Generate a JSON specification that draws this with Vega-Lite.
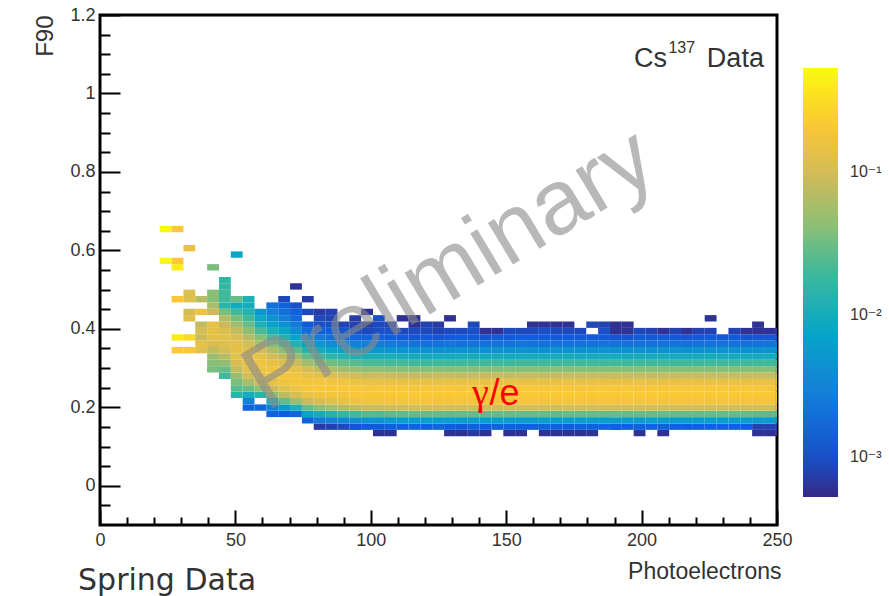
{
"$schema":"https://vega.github.io/schema/vega-lite/v6.json",
"width":677,"height":510,
"autosize":{"type":"none"},
"padding":{"left":100,"top":15,"right":112,"bottom":71},
"background":"white",
"config":{"view":{"stroke":"black","strokeWidth":3},"font":"Liberation Sans"},
"layer":[
{"data":{"values":[
{"x":21.875,"y":0.56625,"v":0.5},{"x":21.875,"y":0.6475,"v":0.5},
{"x":26.25,"y":0.33875,"v":0.22},{"x":26.25,"y":0.37125,"v":0.4},{"x":26.25,"y":0.46875,"v":0.2},{"x":26.25,"y":0.55,"v":0.42},{"x":26.25,"y":0.56625,"v":0.22},{"x":26.25,"y":0.6475,"v":0.22},
{"x":30.625,"y":0.33875,"v":0.2},{"x":30.625,"y":0.37125,"v":0.3},{"x":30.625,"y":0.42,"v":0.13},{"x":30.625,"y":0.43625,"v":0.1},{"x":30.625,"y":0.46875,"v":0.12},{"x":30.625,"y":0.485,"v":0.12},{"x":30.625,"y":0.59875,"v":0.15},
{"x":35,"y":0.33875,"v":0.13},{"x":35,"y":0.355,"v":0.14},{"x":35,"y":0.37125,"v":0.09},{"x":35,"y":0.3875,"v":0.1},{"x":35,"y":0.40375,"v":0.08},{"x":35,"y":0.43625,"v":0.16},{"x":35,"y":0.46875,"v":0.07},
{"x":39.375,"y":0.29,"v":0.035},{"x":39.375,"y":0.30625,"v":0.04},{"x":39.375,"y":0.3225,"v":0.05},{"x":39.375,"y":0.33875,"v":0.08},{"x":39.375,"y":0.355,"v":0.11},{"x":39.375,"y":0.37125,"v":0.13},{"x":39.375,"y":0.3875,"v":0.14},{"x":39.375,"y":0.40375,"v":0.14},{"x":39.375,"y":0.43625,"v":0.09},{"x":39.375,"y":0.4525,"v":0.06},{"x":39.375,"y":0.46875,"v":0.04},{"x":39.375,"y":0.485,"v":0.04},{"x":39.375,"y":0.55,"v":0.035},
{"x":43.75,"y":0.27375,"v":0.02},{"x":43.75,"y":0.29,"v":0.03},{"x":43.75,"y":0.30625,"v":0.045},{"x":43.75,"y":0.3225,"v":0.07},{"x":43.75,"y":0.33875,"v":0.1},{"x":43.75,"y":0.355,"v":0.12},{"x":43.75,"y":0.37125,"v":0.13},{"x":43.75,"y":0.3875,"v":0.12},{"x":43.75,"y":0.40375,"v":0.09},{"x":43.75,"y":0.42,"v":0.065},{"x":43.75,"y":0.43625,"v":0.035},{"x":43.75,"y":0.4525,"v":0.015},{"x":43.75,"y":0.46875,"v":0.02},{"x":43.75,"y":0.485,"v":0.02},{"x":43.75,"y":0.50125,"v":0.017},{"x":43.75,"y":0.5175,"v":0.017},
{"x":48.125,"y":0.225,"v":0.015},{"x":48.125,"y":0.24125,"v":0.025},{"x":48.125,"y":0.2575,"v":0.035},{"x":48.125,"y":0.27375,"v":0.05},{"x":48.125,"y":0.29,"v":0.08},{"x":48.125,"y":0.30625,"v":0.11},{"x":48.125,"y":0.3225,"v":0.13},{"x":48.125,"y":0.33875,"v":0.14},{"x":48.125,"y":0.355,"v":0.13},{"x":48.125,"y":0.37125,"v":0.11},{"x":48.125,"y":0.3875,"v":0.08},{"x":48.125,"y":0.40375,"v":0.055},{"x":48.125,"y":0.42,"v":0.035},{"x":48.125,"y":0.43625,"v":0.02},{"x":48.125,"y":0.4525,"v":0.009},{"x":48.125,"y":0.46875,"v":0.03},{"x":48.125,"y":0.5825,"v":0.008},
{"x":52.5,"y":0.1925,"v":0.0015},{"x":52.5,"y":0.20875,"v":0.003},{"x":52.5,"y":0.225,"v":0.01},{"x":52.5,"y":0.24125,"v":0.03},{"x":52.5,"y":0.2575,"v":0.06},{"x":52.5,"y":0.27375,"v":0.1},{"x":52.5,"y":0.29,"v":0.13},{"x":52.5,"y":0.30625,"v":0.15},{"x":52.5,"y":0.3225,"v":0.15},{"x":52.5,"y":0.33875,"v":0.13},{"x":52.5,"y":0.355,"v":0.1},{"x":52.5,"y":0.37125,"v":0.07},{"x":52.5,"y":0.3875,"v":0.045},{"x":52.5,"y":0.40375,"v":0.03},{"x":52.5,"y":0.42,"v":0.02},{"x":52.5,"y":0.43625,"v":0.014},{"x":52.5,"y":0.4525,"v":0.01},{"x":52.5,"y":0.46875,"v":0.012},
{"x":56.875,"y":0.1925,"v":0.0016},{"x":56.875,"y":0.225,"v":0.015},{"x":56.875,"y":0.24125,"v":0.045},{"x":56.875,"y":0.2575,"v":0.09},{"x":56.875,"y":0.27375,"v":0.13},{"x":56.875,"y":0.29,"v":0.16},{"x":56.875,"y":0.30625,"v":0.16},{"x":56.875,"y":0.3225,"v":0.14},{"x":56.875,"y":0.33875,"v":0.1},{"x":56.875,"y":0.355,"v":0.065},{"x":56.875,"y":0.37125,"v":0.04},{"x":56.875,"y":0.3875,"v":0.022},{"x":56.875,"y":0.40375,"v":0.013},{"x":56.875,"y":0.42,"v":0.008},{"x":56.875,"y":0.43625,"v":0.005},
{"x":61.25,"y":0.17625,"v":0.0015},{"x":61.25,"y":0.1925,"v":0.003},{"x":61.25,"y":0.20875,"v":0.012},{"x":61.25,"y":0.225,"v":0.045},{"x":61.25,"y":0.24125,"v":0.09},{"x":61.25,"y":0.2575,"v":0.14},{"x":61.25,"y":0.27375,"v":0.17},{"x":61.25,"y":0.29,"v":0.17},{"x":61.25,"y":0.30625,"v":0.14},{"x":61.25,"y":0.3225,"v":0.1},{"x":61.25,"y":0.33875,"v":0.065},{"x":61.25,"y":0.355,"v":0.038},{"x":61.25,"y":0.37125,"v":0.021},{"x":61.25,"y":0.3875,"v":0.012},{"x":61.25,"y":0.40375,"v":0.007},{"x":61.25,"y":0.42,"v":0.0045},{"x":61.25,"y":0.43625,"v":0.003},{"x":61.25,"y":0.4525,"v":0.002},
{"x":65.625,"y":0.17625,"v":0.0013},{"x":65.625,"y":0.1925,"v":0.006},{"x":65.625,"y":0.20875,"v":0.028},{"x":65.625,"y":0.225,"v":0.075},{"x":65.625,"y":0.24125,"v":0.13},{"x":65.625,"y":0.2575,"v":0.17},{"x":65.625,"y":0.27375,"v":0.18},{"x":65.625,"y":0.29,"v":0.16},{"x":65.625,"y":0.30625,"v":0.12},{"x":65.625,"y":0.3225,"v":0.075},{"x":65.625,"y":0.33875,"v":0.042},{"x":65.625,"y":0.355,"v":0.023},{"x":65.625,"y":0.37125,"v":0.013},{"x":65.625,"y":0.3875,"v":0.0075},{"x":65.625,"y":0.40375,"v":0.0045},{"x":65.625,"y":0.42,"v":0.003},{"x":65.625,"y":0.43625,"v":0.002},{"x":65.625,"y":0.4525,"v":0.0015},{"x":65.625,"y":0.46875,"v":0.0009},
{"x":70,"y":0.17625,"v":0.0016},{"x":70,"y":0.1925,"v":0.012},{"x":70,"y":0.20875,"v":0.05},{"x":70,"y":0.225,"v":0.11},{"x":70,"y":0.24125,"v":0.16},{"x":70,"y":0.2575,"v":0.19},{"x":70,"y":0.27375,"v":0.18},{"x":70,"y":0.29,"v":0.14},{"x":70,"y":0.30625,"v":0.09},{"x":70,"y":0.3225,"v":0.05},{"x":70,"y":0.33875,"v":0.026},{"x":70,"y":0.355,"v":0.013},{"x":70,"y":0.37125,"v":0.007},{"x":70,"y":0.3875,"v":0.004},{"x":70,"y":0.40375,"v":0.0025},{"x":70,"y":0.42,"v":0.0017},{"x":70,"y":0.43625,"v":0.0014},{"x":70,"y":0.4525,"v":0.001},{"x":70,"y":0.50125,"v":0.0006},
{"x":74.375,"y":0.16,"v":0.0015},{"x":74.375,"y":0.17625,"v":0.007},{"x":74.375,"y":0.1925,"v":0.03},{"x":74.375,"y":0.20875,"v":0.09},{"x":74.375,"y":0.225,"v":0.15},{"x":74.375,"y":0.24125,"v":0.19},{"x":74.375,"y":0.2575,"v":0.19},{"x":74.375,"y":0.27375,"v":0.15},{"x":74.375,"y":0.29,"v":0.1},{"x":74.375,"y":0.30625,"v":0.055},{"x":74.375,"y":0.3225,"v":0.028},{"x":74.375,"y":0.33875,"v":0.014},{"x":74.375,"y":0.355,"v":0.007},{"x":74.375,"y":0.37125,"v":0.0035},{"x":74.375,"y":0.3875,"v":0.0018},{"x":74.375,"y":0.40375,"v":0.0012},{"x":74.375,"y":0.43625,"v":0.0009},{"x":74.375,"y":0.46875,"v":0.0007},
{"x":78.75,"y":0.14375,"v":0.0007},{"x":78.75,"y":0.16,"v":0.0025},{"x":78.75,"y":0.17625,"v":0.01},{"x":78.75,"y":0.1925,"v":0.045},{"x":78.75,"y":0.20875,"v":0.11},{"x":78.75,"y":0.225,"v":0.17},{"x":78.75,"y":0.24125,"v":0.2},{"x":78.75,"y":0.2575,"v":0.19},{"x":78.75,"y":0.27375,"v":0.14},{"x":78.75,"y":0.29,"v":0.08},{"x":78.75,"y":0.30625,"v":0.04},{"x":78.75,"y":0.3225,"v":0.02},{"x":78.75,"y":0.33875,"v":0.01},{"x":78.75,"y":0.355,"v":0.005},{"x":78.75,"y":0.37125,"v":0.0025},{"x":78.75,"y":0.3875,"v":0.0014},{"x":78.75,"y":0.40375,"v":0.001},{"x":78.75,"y":0.42,"v":0.0009},{"x":78.75,"y":0.43625,"v":0.0007},
{"x":83.125,"y":0.14375,"v":0.0008},{"x":83.125,"y":0.16,"v":0.003},{"x":83.125,"y":0.17625,"v":0.013},{"x":83.125,"y":0.1925,"v":0.055},{"x":83.125,"y":0.20875,"v":0.13},{"x":83.125,"y":0.225,"v":0.18},{"x":83.125,"y":0.24125,"v":0.2},{"x":83.125,"y":0.2575,"v":0.18},{"x":83.125,"y":0.27375,"v":0.12},{"x":83.125,"y":0.29,"v":0.065},{"x":83.125,"y":0.30625,"v":0.032},{"x":83.125,"y":0.3225,"v":0.016},{"x":83.125,"y":0.33875,"v":0.008},{"x":83.125,"y":0.355,"v":0.004},{"x":83.125,"y":0.37125,"v":0.002},{"x":83.125,"y":0.3875,"v":0.0013},{"x":83.125,"y":0.40375,"v":0.001},{"x":83.125,"y":0.42,"v":0.0008},{"x":83.125,"y":0.43625,"v":0.0008},
{"x":87.5,"y":0.14375,"v":0.0009},{"x":87.5,"y":0.16,"v":0.0035},{"x":87.5,"y":0.17625,"v":0.017},{"x":87.5,"y":0.1925,"v":0.07},{"x":87.5,"y":0.20875,"v":0.15},{"x":87.5,"y":0.225,"v":0.19},{"x":87.5,"y":0.24125,"v":0.2},{"x":87.5,"y":0.2575,"v":0.17},{"x":87.5,"y":0.27375,"v":0.11},{"x":87.5,"y":0.29,"v":0.055},{"x":87.5,"y":0.30625,"v":0.028},{"x":87.5,"y":0.3225,"v":0.014},{"x":87.5,"y":0.33875,"v":0.007},{"x":87.5,"y":0.355,"v":0.0035},{"x":87.5,"y":0.37125,"v":0.0018},{"x":87.5,"y":0.3875,"v":0.0011},{"x":87.5,"y":0.40375,"v":0.0008},
{"x":91.875,"y":0.14375,"v":0.0011},{"x":91.875,"y":0.16,"v":0.004},{"x":91.875,"y":0.17625,"v":0.02},{"x":91.875,"y":0.1925,"v":0.08},{"x":91.875,"y":0.20875,"v":0.16},{"x":91.875,"y":0.225,"v":0.2},{"x":91.875,"y":0.24125,"v":0.2},{"x":91.875,"y":0.2575,"v":0.16},{"x":91.875,"y":0.27375,"v":0.1},{"x":91.875,"y":0.29,"v":0.05},{"x":91.875,"y":0.30625,"v":0.025},{"x":91.875,"y":0.3225,"v":0.012},{"x":91.875,"y":0.33875,"v":0.006},{"x":91.875,"y":0.355,"v":0.003},{"x":91.875,"y":0.37125,"v":0.0016},{"x":91.875,"y":0.3875,"v":0.001},{"x":91.875,"y":0.40375,"v":0.0008},{"x":91.875,"y":0.42,"v":0.0007},
{"x":96.25,"y":0.14375,"v":0.0012},{"x":96.25,"y":0.16,"v":0.005},{"x":96.25,"y":0.17625,"v":0.025},{"x":96.25,"y":0.1925,"v":0.09},{"x":96.25,"y":0.20875,"v":0.17},{"x":96.25,"y":0.225,"v":0.2},{"x":96.25,"y":0.24125,"v":0.19},{"x":96.25,"y":0.2575,"v":0.15},{"x":96.25,"y":0.27375,"v":0.09},{"x":96.25,"y":0.29,"v":0.045},{"x":96.25,"y":0.30625,"v":0.022},{"x":96.25,"y":0.3225,"v":0.011},{"x":96.25,"y":0.33875,"v":0.0055},{"x":96.25,"y":0.355,"v":0.0028},{"x":96.25,"y":0.37125,"v":0.0015},{"x":96.25,"y":0.3875,"v":0.0009},{"x":96.25,"y":0.40375,"v":0.0007},{"x":96.25,"y":0.43625,"v":0.0006},
{"x":100.625,"y":0.1275,"v":0.0006},{"x":100.625,"y":0.14375,"v":0.0012},{"x":100.625,"y":0.16,"v":0.005},{"x":100.625,"y":0.17625,"v":0.024},{"x":100.625,"y":0.1925,"v":0.09},{"x":100.625,"y":0.20875,"v":0.175},{"x":100.625,"y":0.225,"v":0.205},{"x":100.625,"y":0.24125,"v":0.2},{"x":100.625,"y":0.2575,"v":0.155},{"x":100.625,"y":0.27375,"v":0.092},{"x":100.625,"y":0.29,"v":0.045},{"x":100.625,"y":0.30625,"v":0.022},{"x":100.625,"y":0.3225,"v":0.011},{"x":100.625,"y":0.33875,"v":0.0052},{"x":100.625,"y":0.355,"v":0.0026},{"x":100.625,"y":0.37125,"v":0.0014},{"x":100.625,"y":0.3875,"v":0.001},{"x":100.625,"y":0.40375,"v":0.0009},{"x":100.625,"y":0.42,"v":0.001},
{"x":105,"y":0.1275,"v":0.0006},{"x":105,"y":0.14375,"v":0.0013},{"x":105,"y":0.16,"v":0.0055},{"x":105,"y":0.17625,"v":0.026},{"x":105,"y":0.1925,"v":0.095},{"x":105,"y":0.20875,"v":0.18},{"x":105,"y":0.225,"v":0.205},{"x":105,"y":0.24125,"v":0.2},{"x":105,"y":0.2575,"v":0.152},{"x":105,"y":0.27375,"v":0.09},{"x":105,"y":0.29,"v":0.043},{"x":105,"y":0.30625,"v":0.021},{"x":105,"y":0.3225,"v":0.0105},{"x":105,"y":0.33875,"v":0.005},{"x":105,"y":0.355,"v":0.0025},{"x":105,"y":0.37125,"v":0.0013},{"x":105,"y":0.3875,"v":0.001},{"x":105,"y":0.40375,"v":0.0008},
{"x":109.375,"y":0.14375,"v":0.0014},{"x":109.375,"y":0.16,"v":0.006},{"x":109.375,"y":0.17625,"v":0.027},{"x":109.375,"y":0.1925,"v":0.097},{"x":109.375,"y":0.20875,"v":0.182},{"x":109.375,"y":0.225,"v":0.21},{"x":109.375,"y":0.24125,"v":0.2},{"x":109.375,"y":0.2575,"v":0.15},{"x":109.375,"y":0.27375,"v":0.088},{"x":109.375,"y":0.29,"v":0.042},{"x":109.375,"y":0.30625,"v":0.021},{"x":109.375,"y":0.3225,"v":0.01},{"x":109.375,"y":0.33875,"v":0.0048},{"x":109.375,"y":0.355,"v":0.0023},{"x":109.375,"y":0.37125,"v":0.0012},{"x":109.375,"y":0.3875,"v":0.0009},{"x":109.375,"y":0.42,"v":0.0006},
{"x":113.75,"y":0.14375,"v":0.0015},{"x":113.75,"y":0.16,"v":0.0058},{"x":113.75,"y":0.17625,"v":0.028},{"x":113.75,"y":0.1925,"v":0.1},{"x":113.75,"y":0.20875,"v":0.185},{"x":113.75,"y":0.225,"v":0.208},{"x":113.75,"y":0.24125,"v":0.198},{"x":113.75,"y":0.2575,"v":0.15},{"x":113.75,"y":0.27375,"v":0.086},{"x":113.75,"y":0.29,"v":0.041},{"x":113.75,"y":0.30625,"v":0.02},{"x":113.75,"y":0.3225,"v":0.0098},{"x":113.75,"y":0.33875,"v":0.0046},{"x":113.75,"y":0.355,"v":0.0022},{"x":113.75,"y":0.37125,"v":0.0011},{"x":113.75,"y":0.3875,"v":0.0009},{"x":113.75,"y":0.40375,"v":0.0006},{"x":113.75,"y":0.42,"v":0.0006},
{"x":118.125,"y":0.14375,"v":0.0014},{"x":118.125,"y":0.16,"v":0.0062},{"x":118.125,"y":0.17625,"v":0.029},{"x":118.125,"y":0.1925,"v":0.1},{"x":118.125,"y":0.20875,"v":0.186},{"x":118.125,"y":0.225,"v":0.21},{"x":118.125,"y":0.24125,"v":0.2},{"x":118.125,"y":0.2575,"v":0.148},{"x":118.125,"y":0.27375,"v":0.084},{"x":118.125,"y":0.29,"v":0.04},{"x":118.125,"y":0.30625,"v":0.0195},{"x":118.125,"y":0.3225,"v":0.0094},{"x":118.125,"y":0.33875,"v":0.0046},{"x":118.125,"y":0.355,"v":0.0021},{"x":118.125,"y":0.37125,"v":0.0012},{"x":118.125,"y":0.3875,"v":0.0009},{"x":118.125,"y":0.40375,"v":0.0008},
{"x":122.5,"y":0.14375,"v":0.0016},{"x":122.5,"y":0.16,"v":0.006},{"x":122.5,"y":0.17625,"v":0.028},{"x":122.5,"y":0.1925,"v":0.102},{"x":122.5,"y":0.20875,"v":0.188},{"x":122.5,"y":0.225,"v":0.21},{"x":122.5,"y":0.24125,"v":0.198},{"x":122.5,"y":0.2575,"v":0.148},{"x":122.5,"y":0.27375,"v":0.085},{"x":122.5,"y":0.29,"v":0.041},{"x":122.5,"y":0.30625,"v":0.02},{"x":122.5,"y":0.3225,"v":0.0096},{"x":122.5,"y":0.33875,"v":0.0044},{"x":122.5,"y":0.355,"v":0.0022},{"x":122.5,"y":0.37125,"v":0.0011},{"x":122.5,"y":0.3875,"v":0.0008},{"x":122.5,"y":0.40375,"v":0.0007},
{"x":126.875,"y":0.1275,"v":0.0006},{"x":126.875,"y":0.14375,"v":0.0013},{"x":126.875,"y":0.16,"v":0.0058},{"x":126.875,"y":0.17625,"v":0.027},{"x":126.875,"y":0.1925,"v":0.1},{"x":126.875,"y":0.20875,"v":0.185},{"x":126.875,"y":0.225,"v":0.212},{"x":126.875,"y":0.24125,"v":0.2},{"x":126.875,"y":0.2575,"v":0.15},{"x":126.875,"y":0.27375,"v":0.085},{"x":126.875,"y":0.29,"v":0.04},{"x":126.875,"y":0.30625,"v":0.02},{"x":126.875,"y":0.3225,"v":0.0093},{"x":126.875,"y":0.33875,"v":0.0045},{"x":126.875,"y":0.355,"v":0.0023},{"x":126.875,"y":0.37125,"v":0.0012},{"x":126.875,"y":0.3875,"v":0.0009},{"x":126.875,"y":0.42,"v":0.0006},
{"x":131.25,"y":0.1275,"v":0.0006},{"x":131.25,"y":0.14375,"v":0.0012},{"x":131.25,"y":0.16,"v":0.0056},{"x":131.25,"y":0.17625,"v":0.028},{"x":131.25,"y":0.1925,"v":0.101},{"x":131.25,"y":0.20875,"v":0.187},{"x":131.25,"y":0.225,"v":0.21},{"x":131.25,"y":0.24125,"v":0.199},{"x":131.25,"y":0.2575,"v":0.149},{"x":131.25,"y":0.27375,"v":0.084},{"x":131.25,"y":0.29,"v":0.04},{"x":131.25,"y":0.30625,"v":0.0198},{"x":131.25,"y":0.3225,"v":0.0095},{"x":131.25,"y":0.33875,"v":0.0046},{"x":131.25,"y":0.355,"v":0.0021},{"x":131.25,"y":0.37125,"v":0.0013},{"x":131.25,"y":0.3875,"v":0.0009},
{"x":135.625,"y":0.1275,"v":0.0007},{"x":135.625,"y":0.14375,"v":0.0014},{"x":135.625,"y":0.16,"v":0.006},{"x":135.625,"y":0.17625,"v":0.028},{"x":135.625,"y":0.1925,"v":0.1},{"x":135.625,"y":0.20875,"v":0.185},{"x":135.625,"y":0.225,"v":0.21},{"x":135.625,"y":0.24125,"v":0.2},{"x":135.625,"y":0.2575,"v":0.15},{"x":135.625,"y":0.27375,"v":0.085},{"x":135.625,"y":0.29,"v":0.04},{"x":135.625,"y":0.30625,"v":0.02},{"x":135.625,"y":0.3225,"v":0.0095},{"x":135.625,"y":0.33875,"v":0.0045},{"x":135.625,"y":0.355,"v":0.0022},{"x":135.625,"y":0.37125,"v":0.0012},{"x":135.625,"y":0.3875,"v":0.001},{"x":135.625,"y":0.40375,"v":0.0009},
{"x":140,"y":0.1275,"v":0.0006},{"x":140,"y":0.14375,"v":0.0013},{"x":140,"y":0.16,"v":0.0059},{"x":140,"y":0.17625,"v":0.027},{"x":140,"y":0.1925,"v":0.099},{"x":140,"y":0.20875,"v":0.184},{"x":140,"y":0.225,"v":0.21},{"x":140,"y":0.24125,"v":0.201},{"x":140,"y":0.2575,"v":0.151},{"x":140,"y":0.27375,"v":0.086},{"x":140,"y":0.29,"v":0.04},{"x":140,"y":0.30625,"v":0.02},{"x":140,"y":0.3225,"v":0.0094},{"x":140,"y":0.33875,"v":0.0044},{"x":140,"y":0.355,"v":0.0021},{"x":140,"y":0.37125,"v":0.0011},{"x":140,"y":0.3875,"v":0.0006},
{"x":144.375,"y":0.14375,"v":0.0015},{"x":144.375,"y":0.16,"v":0.0061},{"x":144.375,"y":0.17625,"v":0.028},{"x":144.375,"y":0.1925,"v":0.1},{"x":144.375,"y":0.20875,"v":0.186},{"x":144.375,"y":0.225,"v":0.211},{"x":144.375,"y":0.24125,"v":0.2},{"x":144.375,"y":0.2575,"v":0.15},{"x":144.375,"y":0.27375,"v":0.085},{"x":144.375,"y":0.29,"v":0.04},{"x":144.375,"y":0.30625,"v":0.02},{"x":144.375,"y":0.3225,"v":0.0095},{"x":144.375,"y":0.33875,"v":0.0046},{"x":144.375,"y":0.355,"v":0.0022},{"x":144.375,"y":0.37125,"v":0.0012},{"x":144.375,"y":0.3875,"v":0.0006},
{"x":148.75,"y":0.1275,"v":0.0006},{"x":148.75,"y":0.14375,"v":0.0014},{"x":148.75,"y":0.16,"v":0.006},{"x":148.75,"y":0.17625,"v":0.029},{"x":148.75,"y":0.1925,"v":0.101},{"x":148.75,"y":0.20875,"v":0.186},{"x":148.75,"y":0.225,"v":0.21},{"x":148.75,"y":0.24125,"v":0.199},{"x":148.75,"y":0.2575,"v":0.149},{"x":148.75,"y":0.27375,"v":0.084},{"x":148.75,"y":0.29,"v":0.04},{"x":148.75,"y":0.30625,"v":0.0196},{"x":148.75,"y":0.3225,"v":0.0093},{"x":148.75,"y":0.33875,"v":0.0045},{"x":148.75,"y":0.355,"v":0.0022},{"x":148.75,"y":0.37125,"v":0.0012},{"x":148.75,"y":0.3875,"v":0.0009},
{"x":153.125,"y":0.1275,"v":0.0006},{"x":153.125,"y":0.14375,"v":0.0013},{"x":153.125,"y":0.16,"v":0.0058},{"x":153.125,"y":0.17625,"v":0.028},{"x":153.125,"y":0.1925,"v":0.1},{"x":153.125,"y":0.20875,"v":0.185},{"x":153.125,"y":0.225,"v":0.21},{"x":153.125,"y":0.24125,"v":0.2},{"x":153.125,"y":0.2575,"v":0.15},{"x":153.125,"y":0.27375,"v":0.085},{"x":153.125,"y":0.29,"v":0.04},{"x":153.125,"y":0.30625,"v":0.02},{"x":153.125,"y":0.3225,"v":0.0096},{"x":153.125,"y":0.33875,"v":0.0046},{"x":153.125,"y":0.355,"v":0.0023},{"x":153.125,"y":0.37125,"v":0.0013},{"x":153.125,"y":0.3875,"v":0.0009},
{"x":157.5,"y":0.14375,"v":0.0014},{"x":157.5,"y":0.16,"v":0.006},{"x":157.5,"y":0.17625,"v":0.028},{"x":157.5,"y":0.1925,"v":0.1},{"x":157.5,"y":0.20875,"v":0.185},{"x":157.5,"y":0.225,"v":0.21},{"x":157.5,"y":0.24125,"v":0.2},{"x":157.5,"y":0.2575,"v":0.15},{"x":157.5,"y":0.27375,"v":0.085},{"x":157.5,"y":0.29,"v":0.04},{"x":157.5,"y":0.30625,"v":0.02},{"x":157.5,"y":0.3225,"v":0.0095},{"x":157.5,"y":0.33875,"v":0.0045},{"x":157.5,"y":0.355,"v":0.0022},{"x":157.5,"y":0.37125,"v":0.0013},{"x":157.5,"y":0.3875,"v":0.0009},{"x":157.5,"y":0.40375,"v":0.0006},
{"x":161.875,"y":0.1275,"v":0.0006},{"x":161.875,"y":0.14375,"v":0.0015},{"x":161.875,"y":0.16,"v":0.0062},{"x":161.875,"y":0.17625,"v":0.028},{"x":161.875,"y":0.1925,"v":0.1},{"x":161.875,"y":0.20875,"v":0.186},{"x":161.875,"y":0.225,"v":0.21},{"x":161.875,"y":0.24125,"v":0.2},{"x":161.875,"y":0.2575,"v":0.149},{"x":161.875,"y":0.27375,"v":0.084},{"x":161.875,"y":0.29,"v":0.04},{"x":161.875,"y":0.30625,"v":0.0198},{"x":161.875,"y":0.3225,"v":0.0094},{"x":161.875,"y":0.33875,"v":0.0045},{"x":161.875,"y":0.355,"v":0.0022},{"x":161.875,"y":0.37125,"v":0.0012},{"x":161.875,"y":0.3875,"v":0.001},{"x":161.875,"y":0.40375,"v":0.0006},
{"x":166.25,"y":0.1275,"v":0.0006},{"x":166.25,"y":0.14375,"v":0.0014},{"x":166.25,"y":0.16,"v":0.006},{"x":166.25,"y":0.17625,"v":0.027},{"x":166.25,"y":0.1925,"v":0.099},{"x":166.25,"y":0.20875,"v":0.185},{"x":166.25,"y":0.225,"v":0.211},{"x":166.25,"y":0.24125,"v":0.2},{"x":166.25,"y":0.2575,"v":0.15},{"x":166.25,"y":0.27375,"v":0.085},{"x":166.25,"y":0.29,"v":0.041},{"x":166.25,"y":0.30625,"v":0.02},{"x":166.25,"y":0.3225,"v":0.0095},{"x":166.25,"y":0.33875,"v":0.0046},{"x":166.25,"y":0.355,"v":0.0022},{"x":166.25,"y":0.37125,"v":0.0012},{"x":166.25,"y":0.3875,"v":0.0009},{"x":166.25,"y":0.40375,"v":0.0006},
{"x":170.625,"y":0.1275,"v":0.0006},{"x":170.625,"y":0.14375,"v":0.0013},{"x":170.625,"y":0.16,"v":0.0059},{"x":170.625,"y":0.17625,"v":0.028},{"x":170.625,"y":0.1925,"v":0.1},{"x":170.625,"y":0.20875,"v":0.186},{"x":170.625,"y":0.225,"v":0.21},{"x":170.625,"y":0.24125,"v":0.2},{"x":170.625,"y":0.2575,"v":0.15},{"x":170.625,"y":0.27375,"v":0.085},{"x":170.625,"y":0.29,"v":0.04},{"x":170.625,"y":0.30625,"v":0.02},{"x":170.625,"y":0.3225,"v":0.0095},{"x":170.625,"y":0.33875,"v":0.0045},{"x":170.625,"y":0.355,"v":0.0021},{"x":170.625,"y":0.37125,"v":0.0012},{"x":170.625,"y":0.3875,"v":0.0009},{"x":170.625,"y":0.40375,"v":0.0006},
{"x":175,"y":0.1275,"v":0.0006},{"x":175,"y":0.14375,"v":0.0014},{"x":175,"y":0.16,"v":0.006},{"x":175,"y":0.17625,"v":0.028},{"x":175,"y":0.1925,"v":0.101},{"x":175,"y":0.20875,"v":0.186},{"x":175,"y":0.225,"v":0.21},{"x":175,"y":0.24125,"v":0.199},{"x":175,"y":0.2575,"v":0.149},{"x":175,"y":0.27375,"v":0.085},{"x":175,"y":0.29,"v":0.04},{"x":175,"y":0.30625,"v":0.02},{"x":175,"y":0.3225,"v":0.0094},{"x":175,"y":0.33875,"v":0.0045},{"x":175,"y":0.355,"v":0.0022},{"x":175,"y":0.37125,"v":0.0012},{"x":175,"y":0.3875,"v":0.0009},
{"x":179.375,"y":0.1275,"v":0.0006},{"x":179.375,"y":0.14375,"v":0.0014},{"x":179.375,"y":0.16,"v":0.006},{"x":179.375,"y":0.17625,"v":0.028},{"x":179.375,"y":0.1925,"v":0.1},{"x":179.375,"y":0.20875,"v":0.185},{"x":179.375,"y":0.225,"v":0.21},{"x":179.375,"y":0.24125,"v":0.2},{"x":179.375,"y":0.2575,"v":0.15},{"x":179.375,"y":0.27375,"v":0.085},{"x":179.375,"y":0.29,"v":0.04},{"x":179.375,"y":0.30625,"v":0.02},{"x":179.375,"y":0.3225,"v":0.0095},{"x":179.375,"y":0.33875,"v":0.0045},{"x":179.375,"y":0.355,"v":0.0022},{"x":179.375,"y":0.37125,"v":0.0012},{"x":179.375,"y":0.40375,"v":0.0009},
{"x":183.75,"y":0.14375,"v":0.0015},{"x":183.75,"y":0.16,"v":0.0061},{"x":183.75,"y":0.17625,"v":0.028},{"x":183.75,"y":0.1925,"v":0.1},{"x":183.75,"y":0.20875,"v":0.185},{"x":183.75,"y":0.225,"v":0.21},{"x":183.75,"y":0.24125,"v":0.2},{"x":183.75,"y":0.2575,"v":0.15},{"x":183.75,"y":0.27375,"v":0.085},{"x":183.75,"y":0.29,"v":0.04},{"x":183.75,"y":0.30625,"v":0.02},{"x":183.75,"y":0.3225,"v":0.0095},{"x":183.75,"y":0.33875,"v":0.0046},{"x":183.75,"y":0.355,"v":0.0022},{"x":183.75,"y":0.37125,"v":0.0012},{"x":183.75,"y":0.3875,"v":0.001},{"x":183.75,"y":0.40375,"v":0.0008},
{"x":188.125,"y":0.14375,"v":0.0014},{"x":188.125,"y":0.16,"v":0.006},{"x":188.125,"y":0.17625,"v":0.028},{"x":188.125,"y":0.1925,"v":0.1},{"x":188.125,"y":0.20875,"v":0.186},{"x":188.125,"y":0.225,"v":0.21},{"x":188.125,"y":0.24125,"v":0.2},{"x":188.125,"y":0.2575,"v":0.15},{"x":188.125,"y":0.27375,"v":0.085},{"x":188.125,"y":0.29,"v":0.04},{"x":188.125,"y":0.30625,"v":0.02},{"x":188.125,"y":0.3225,"v":0.0095},{"x":188.125,"y":0.33875,"v":0.0045},{"x":188.125,"y":0.355,"v":0.0022},{"x":188.125,"y":0.37125,"v":0.0011},{"x":188.125,"y":0.3875,"v":0.0006},{"x":188.125,"y":0.40375,"v":0.0006},
{"x":192.5,"y":0.14375,"v":0.0014},{"x":192.5,"y":0.16,"v":0.006},{"x":192.5,"y":0.17625,"v":0.028},{"x":192.5,"y":0.1925,"v":0.1},{"x":192.5,"y":0.20875,"v":0.185},{"x":192.5,"y":0.225,"v":0.21},{"x":192.5,"y":0.24125,"v":0.2},{"x":192.5,"y":0.2575,"v":0.15},{"x":192.5,"y":0.27375,"v":0.085},{"x":192.5,"y":0.29,"v":0.04},{"x":192.5,"y":0.30625,"v":0.0198},{"x":192.5,"y":0.3225,"v":0.0094},{"x":192.5,"y":0.33875,"v":0.0045},{"x":192.5,"y":0.355,"v":0.0021},{"x":192.5,"y":0.37125,"v":0.0011},{"x":192.5,"y":0.3875,"v":0.0006},{"x":192.5,"y":0.40375,"v":0.0006},
{"x":196.875,"y":0.1275,"v":0.0006},{"x":196.875,"y":0.14375,"v":0.0014},{"x":196.875,"y":0.16,"v":0.006},{"x":196.875,"y":0.17625,"v":0.028},{"x":196.875,"y":0.1925,"v":0.1},{"x":196.875,"y":0.20875,"v":0.185},{"x":196.875,"y":0.225,"v":0.21},{"x":196.875,"y":0.24125,"v":0.2},{"x":196.875,"y":0.2575,"v":0.15},{"x":196.875,"y":0.27375,"v":0.085},{"x":196.875,"y":0.29,"v":0.04},{"x":196.875,"y":0.30625,"v":0.02},{"x":196.875,"y":0.3225,"v":0.0095},{"x":196.875,"y":0.33875,"v":0.0046},{"x":196.875,"y":0.355,"v":0.0022},{"x":196.875,"y":0.37125,"v":0.0012},{"x":196.875,"y":0.3875,"v":0.0009},
{"x":201.25,"y":0.14375,"v":0.0015},{"x":201.25,"y":0.16,"v":0.0062},{"x":201.25,"y":0.17625,"v":0.029},{"x":201.25,"y":0.1925,"v":0.101},{"x":201.25,"y":0.20875,"v":0.186},{"x":201.25,"y":0.225,"v":0.21},{"x":201.25,"y":0.24125,"v":0.2},{"x":201.25,"y":0.2575,"v":0.149},{"x":201.25,"y":0.27375,"v":0.084},{"x":201.25,"y":0.29,"v":0.04},{"x":201.25,"y":0.30625,"v":0.02},{"x":201.25,"y":0.3225,"v":0.0095},{"x":201.25,"y":0.33875,"v":0.0045},{"x":201.25,"y":0.355,"v":0.0022},{"x":201.25,"y":0.37125,"v":0.0012},{"x":201.25,"y":0.3875,"v":0.0008},
{"x":205.625,"y":0.1275,"v":0.0006},{"x":205.625,"y":0.14375,"v":0.0014},{"x":205.625,"y":0.16,"v":0.006},{"x":205.625,"y":0.17625,"v":0.028},{"x":205.625,"y":0.1925,"v":0.1},{"x":205.625,"y":0.20875,"v":0.185},{"x":205.625,"y":0.225,"v":0.21},{"x":205.625,"y":0.24125,"v":0.2},{"x":205.625,"y":0.2575,"v":0.15},{"x":205.625,"y":0.27375,"v":0.085},{"x":205.625,"y":0.29,"v":0.04},{"x":205.625,"y":0.30625,"v":0.02},{"x":205.625,"y":0.3225,"v":0.0095},{"x":205.625,"y":0.33875,"v":0.0045},{"x":205.625,"y":0.355,"v":0.0022},{"x":205.625,"y":0.37125,"v":0.0012},{"x":205.625,"y":0.3875,"v":0.0006},
{"x":210,"y":0.14375,"v":0.0014},{"x":210,"y":0.16,"v":0.006},{"x":210,"y":0.17625,"v":0.028},{"x":210,"y":0.1925,"v":0.1},{"x":210,"y":0.20875,"v":0.185},{"x":210,"y":0.225,"v":0.21},{"x":210,"y":0.24125,"v":0.2},{"x":210,"y":0.2575,"v":0.15},{"x":210,"y":0.27375,"v":0.085},{"x":210,"y":0.29,"v":0.04},{"x":210,"y":0.30625,"v":0.02},{"x":210,"y":0.3225,"v":0.0096},{"x":210,"y":0.33875,"v":0.0046},{"x":210,"y":0.355,"v":0.0022},{"x":210,"y":0.37125,"v":0.0012},{"x":210,"y":0.3875,"v":0.0008},
{"x":214.375,"y":0.14375,"v":0.0013},{"x":214.375,"y":0.16,"v":0.0059},{"x":214.375,"y":0.17625,"v":0.028},{"x":214.375,"y":0.1925,"v":0.1},{"x":214.375,"y":0.20875,"v":0.185},{"x":214.375,"y":0.225,"v":0.21},{"x":214.375,"y":0.24125,"v":0.2},{"x":214.375,"y":0.2575,"v":0.15},{"x":214.375,"y":0.27375,"v":0.085},{"x":214.375,"y":0.29,"v":0.04},{"x":214.375,"y":0.30625,"v":0.02},{"x":214.375,"y":0.3225,"v":0.0095},{"x":214.375,"y":0.33875,"v":0.0045},{"x":214.375,"y":0.355,"v":0.0021},{"x":214.375,"y":0.37125,"v":0.0011},{"x":214.375,"y":0.3875,"v":0.0006},
{"x":218.75,"y":0.14375,"v":0.0014},{"x":218.75,"y":0.16,"v":0.006},{"x":218.75,"y":0.17625,"v":0.028},{"x":218.75,"y":0.1925,"v":0.1},{"x":218.75,"y":0.20875,"v":0.186},{"x":218.75,"y":0.225,"v":0.211},{"x":218.75,"y":0.24125,"v":0.2},{"x":218.75,"y":0.2575,"v":0.15},{"x":218.75,"y":0.27375,"v":0.085},{"x":218.75,"y":0.29,"v":0.04},{"x":218.75,"y":0.30625,"v":0.02},{"x":218.75,"y":0.3225,"v":0.0095},{"x":218.75,"y":0.33875,"v":0.0045},{"x":218.75,"y":0.355,"v":0.0022},{"x":218.75,"y":0.37125,"v":0.0012},{"x":218.75,"y":0.3875,"v":0.0008},
{"x":223.125,"y":0.14375,"v":0.0014},{"x":223.125,"y":0.16,"v":0.006},{"x":223.125,"y":0.17625,"v":0.028},{"x":223.125,"y":0.1925,"v":0.1},{"x":223.125,"y":0.20875,"v":0.185},{"x":223.125,"y":0.225,"v":0.21},{"x":223.125,"y":0.24125,"v":0.2},{"x":223.125,"y":0.2575,"v":0.15},{"x":223.125,"y":0.27375,"v":0.085},{"x":223.125,"y":0.29,"v":0.04},{"x":223.125,"y":0.30625,"v":0.02},{"x":223.125,"y":0.3225,"v":0.0095},{"x":223.125,"y":0.33875,"v":0.0045},{"x":223.125,"y":0.355,"v":0.0022},{"x":223.125,"y":0.37125,"v":0.0012},{"x":223.125,"y":0.3875,"v":0.0008},{"x":223.125,"y":0.42,"v":0.0006},
{"x":227.5,"y":0.14375,"v":0.0015},{"x":227.5,"y":0.16,"v":0.0061},{"x":227.5,"y":0.17625,"v":0.028},{"x":227.5,"y":0.1925,"v":0.1},{"x":227.5,"y":0.20875,"v":0.185},{"x":227.5,"y":0.225,"v":0.21},{"x":227.5,"y":0.24125,"v":0.2},{"x":227.5,"y":0.2575,"v":0.15},{"x":227.5,"y":0.27375,"v":0.085},{"x":227.5,"y":0.29,"v":0.04},{"x":227.5,"y":0.30625,"v":0.02},{"x":227.5,"y":0.3225,"v":0.0095},{"x":227.5,"y":0.33875,"v":0.0046},{"x":227.5,"y":0.355,"v":0.0022},{"x":227.5,"y":0.37125,"v":0.0012},
{"x":231.875,"y":0.14375,"v":0.0014},{"x":231.875,"y":0.16,"v":0.006},{"x":231.875,"y":0.17625,"v":0.028},{"x":231.875,"y":0.1925,"v":0.1},{"x":231.875,"y":0.20875,"v":0.185},{"x":231.875,"y":0.225,"v":0.21},{"x":231.875,"y":0.24125,"v":0.2},{"x":231.875,"y":0.2575,"v":0.15},{"x":231.875,"y":0.27375,"v":0.085},{"x":231.875,"y":0.29,"v":0.04},{"x":231.875,"y":0.30625,"v":0.02},{"x":231.875,"y":0.3225,"v":0.0094},{"x":231.875,"y":0.33875,"v":0.0045},{"x":231.875,"y":0.355,"v":0.0022},{"x":231.875,"y":0.37125,"v":0.0012},{"x":231.875,"y":0.3875,"v":0.0008},
{"x":236.25,"y":0.14375,"v":0.0013},{"x":236.25,"y":0.16,"v":0.006},{"x":236.25,"y":0.17625,"v":0.028},{"x":236.25,"y":0.1925,"v":0.1},{"x":236.25,"y":0.20875,"v":0.185},{"x":236.25,"y":0.225,"v":0.21},{"x":236.25,"y":0.24125,"v":0.2},{"x":236.25,"y":0.2575,"v":0.15},{"x":236.25,"y":0.27375,"v":0.085},{"x":236.25,"y":0.29,"v":0.04},{"x":236.25,"y":0.30625,"v":0.02},{"x":236.25,"y":0.3225,"v":0.0095},{"x":236.25,"y":0.33875,"v":0.0045},{"x":236.25,"y":0.355,"v":0.0021},{"x":236.25,"y":0.37125,"v":0.0011},{"x":236.25,"y":0.3875,"v":0.0006},
{"x":240.625,"y":0.1275,"v":0.0006},{"x":240.625,"y":0.14375,"v":0.0008},{"x":240.625,"y":0.16,"v":0.0055},{"x":240.625,"y":0.17625,"v":0.027},{"x":240.625,"y":0.1925,"v":0.1},{"x":240.625,"y":0.20875,"v":0.185},{"x":240.625,"y":0.225,"v":0.21},{"x":240.625,"y":0.24125,"v":0.2},{"x":240.625,"y":0.2575,"v":0.15},{"x":240.625,"y":0.27375,"v":0.085},{"x":240.625,"y":0.29,"v":0.04},{"x":240.625,"y":0.30625,"v":0.02},{"x":240.625,"y":0.3225,"v":0.0095},{"x":240.625,"y":0.33875,"v":0.0045},{"x":240.625,"y":0.355,"v":0.0022},{"x":240.625,"y":0.37125,"v":0.0011},{"x":240.625,"y":0.3875,"v":0.0006},{"x":240.625,"y":0.40375,"v":0.0006},
{"x":245,"y":0.1275,"v":0.0006},{"x":245,"y":0.14375,"v":0.0008},{"x":245,"y":0.16,"v":0.0055},{"x":245,"y":0.17625,"v":0.027},{"x":245,"y":0.1925,"v":0.1},{"x":245,"y":0.20875,"v":0.185},{"x":245,"y":0.225,"v":0.21},{"x":245,"y":0.24125,"v":0.2},{"x":245,"y":0.2575,"v":0.15},{"x":245,"y":0.27375,"v":0.085},{"x":245,"y":0.29,"v":0.04},{"x":245,"y":0.30625,"v":0.02},{"x":245,"y":0.3225,"v":0.0095},{"x":245,"y":0.33875,"v":0.0045},{"x":245,"y":0.355,"v":0.0022},{"x":245,"y":0.37125,"v":0.0011},{"x":245,"y":0.3875,"v":0.0006},
{"x":249.375,"y":0.1275,"v":0.0006},{"x":249.375,"y":0.14375,"v":0.0008},{"x":249.375,"y":0.16,"v":0.0055},{"x":249.375,"y":0.17625,"v":0.027},{"x":249.375,"y":0.1925,"v":0.1},{"x":249.375,"y":0.20875,"v":0.185},{"x":249.375,"y":0.225,"v":0.21},{"x":249.375,"y":0.24125,"v":0.2},{"x":249.375,"y":0.2575,"v":0.15},{"x":249.375,"y":0.27375,"v":0.085},{"x":249.375,"y":0.29,"v":0.04},{"x":249.375,"y":0.30625,"v":0.02},{"x":249.375,"y":0.3225,"v":0.0095},{"x":249.375,"y":0.33875,"v":0.0045},{"x":249.375,"y":0.355,"v":0.0022},{"x":249.375,"y":0.37125,"v":0.0011},{"x":249.375,"y":0.3875,"v":0.0006}
]},
"mark":{"type":"rect","clip":true},
"encoding":{
"x":{"field":"x","type":"quantitative","bin":{"binned":true,"step":4.375},"scale":{"domain":[0,250],"nice":false,"zero":false},
"axis":{"values":[0,10,20,30,40,50,60,70,80,90,100,110,120,130,140,150,160,170,180,190,200,210,220,230,240,250],
"labelExpr":"datum.value % 50 === 0 ? format(datum.value,'d') : ''",
"tickSize":{"condition":{"test":"datum.value % 50 === 0","value":-15},"value":-8},
"tickColor":"black","tickWidth":2,"domain":false,"grid":false,
"labelFontSize":18,"labelColor":"#333","labelPadding":21,"labelFlush":false,"labelOverlap":false,"labelBound":false,"labelFont":"Liberation Sans",
"title":"Photoelectrons","titleFontSize":23,"titleFontWeight":"normal","titleColor":"#333","titleFont":"Liberation Sans","titleAlign":"right","titleAnchor":"end","titleX":681,"titleY":53,"titleBaseline":"alphabetic"}},
"y":{"field":"y","type":"quantitative","bin":{"binned":true,"step":0.01625},"scale":{"domain":[-0.1,1.2],"nice":false,"zero":false},
"axis":{"values":[-0.05,0,0.05,0.1,0.15,0.2,0.25,0.3,0.35,0.4,0.45,0.5,0.55,0.6,0.65,0.7,0.75,0.8,0.85,0.9,0.95,1,1.05,1.1,1.15,1.2],
"labelExpr":"abs(datum.value*5-round(datum.value*5))<0.001 ? format(datum.value,'~g') : ''",
"tickSize":{"condition":{"test":"abs(datum.value*5-round(datum.value*5))<0.001","value":-20},"value":-10},
"tickColor":"black","tickWidth":2,"domain":false,"grid":false,
"labelFontSize":18,"labelColor":"#333","labelPadding":25,"labelFlush":false,"labelOverlap":false,"labelBound":false,"labelFont":"Liberation Sans",
"title":"F90","titleFontSize":24,"titleFontWeight":"normal","titleColor":"#333","titleFont":"Liberation Sans","titleAngle":270,"titleAlign":"right","titleAnchor":"end","titleX":-48,"titleY":0,"titleBaseline":"alphabetic"}},
"color":{"field":"v","type":"quantitative",
"scale":{"type":"log","domain":[0.000524,0.001245,0.002965,0.00705,0.01675,0.0399,0.0948,0.226,0.537],"range":["#352a87","#0f5cdd","#1481d6","#06a4ca","#2eb7a4","#87bf77","#d1bb59","#fec832","#f9fb0e"],"interpolate":"rgb","clamp":true},
"legend":{"orient":"none","legendX":703,"legendY":53,"direction":"vertical","gradientLength":429,"gradientThickness":35,"title":null,"values":[0.001,0.01,0.1],
"labelExpr":"datum.value < 0.005 ? '10⁻³' : (datum.value < 0.05 ? '10⁻²' : '10⁻¹')",
"labelFontSize":16,"labelColor":"#333","labelOffset":12,"gradientStrokeWidth":0,"labelFont":"Liberation Sans, DejaVu Sans"}}
}},
{"data":{"values":[{}]},"mark":{"type":"text","text":"Preliminary","angle":-31,"fontSize":92,"font":"Liberation Sans","fill":"#8a8a8a","opacity":0.6,"align":"center","baseline":"middle"},
"encoding":{"x":{"datum":129},"y":{"datum":0.55}}},
{"data":{"values":[{}]},"mark":{"type":"text","text":"γ","fontSize":38,"font":"Liberation Serif","fill":"#ff0000","align":"right","baseline":"alphabetic"},
"encoding":{"x":{"datum":143.6},"y":{"datum":0.207}}},
{"data":{"values":[{}]},"mark":{"type":"text","text":"/e","fontSize":36,"font":"Liberation Sans","fill":"#ff0000","align":"left","baseline":"alphabetic"},
"encoding":{"x":{"datum":143.8},"y":{"datum":0.207}}},
{"data":{"values":[{}]},"mark":{"type":"text","text":"Cs","fontSize":27,"font":"Liberation Sans","fill":"#333","align":"right","baseline":"alphabetic"},
"encoding":{"x":{"datum":209.4},"y":{"datum":1.067}}},
{"data":{"values":[{}]},"mark":{"type":"text","text":"137","fontSize":16,"font":"Liberation Sans","fill":"#333","align":"left","baseline":"alphabetic"},
"encoding":{"x":{"datum":209.9},"y":{"datum":1.103}}},
{"data":{"values":[{}]},"mark":{"type":"text","text":"Data","fontSize":27,"font":"Liberation Sans","fill":"#333","align":"left","baseline":"alphabetic"},
"encoding":{"x":{"datum":224.1},"y":{"datum":1.067}}},
{"data":{"values":[{}]},"mark":{"type":"text","text":"Spring Data","fontSize":30,"font":"DejaVu Sans","fill":"#333","align":"left","baseline":"alphabetic"},
"encoding":{"x":{"datum":-8.1},"y":{"datum":-0.2655}}}
]
}
